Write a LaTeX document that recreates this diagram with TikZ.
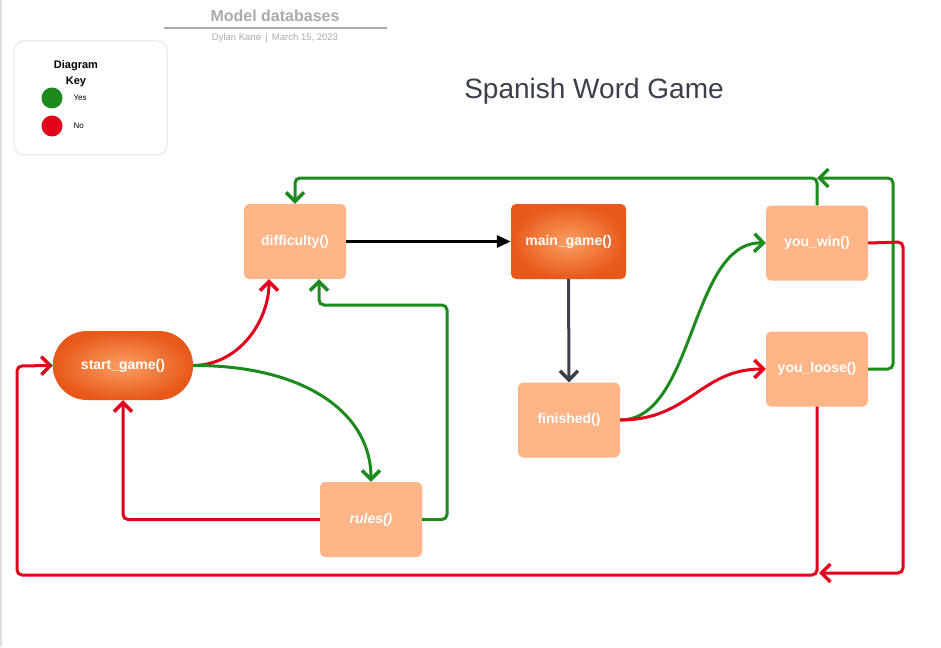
\documentclass[tikz,border=0pt]{standalone}
\usepackage{fontspec}
\setmainfont{Liberation Sans}
\usetikzlibrary{arrows.meta}

\definecolor{gk}{RGB}{29,138,30}
\definecolor{rd}{RGB}{227,0,27}
\definecolor{peach}{RGB}{255,181,136}
\definecolor{dk}{RGB}{58,63,74}
\definecolor{hdr}{RGB}{168,171,176}
\definecolor{hotin}{RGB}{250,160,98}
\definecolor{hotout}{RGB}{232,88,26}

\begin{document}
\begin{tikzpicture}[x=1pt,y=-1pt,
  box/.style={rectangle, rounded corners=5pt, fill=peach, text=white,
    font=\bfseries\fontsize{14}{16}\selectfont, minimum width=102pt,
    minimum height=75pt, inner sep=0pt},
  hotbox/.style={box, fill=none, shading=radial, inner color=hotin, outer color=hotout},
  conn/.style={line width=3pt, rounded corners=5pt},
  vtip/.style={-{Straight Barb[length=9pt,width=18pt,line width=3.5pt]}},
  ftip/.style={-{Triangle[length=14pt,width=12pt]}},
  keytxt/.style={font=\fontsize{8}{9}\selectfont, text=black}
]
\useasboundingbox (0,0) rectangle (941,647);
\fill[white] (0,0) rectangle (941,647);
\draw[gray!25, line width=2pt] (1,0) -- (1,647);

% header
\node[font=\bfseries\fontsize{16}{18}\selectfont, text=hdr] (hd) at (275,16) {Model databases};
\draw[hdr, line width=1.5pt] (164,28) -- (387,28);
\node[font=\fontsize{9.5}{10}\selectfont, text=hdr] (auth) at (275,38) {Dylan Kane \,|\, March 15, 2023};

% legend
\node[draw=gray!20, line width=1pt, rounded corners=10pt, minimum width=153pt,
  minimum height=114pt] (key) at (90.5,98) {};
\node[font=\bfseries\fontsize{11}{16}\selectfont, align=center] (keyt) at (76,74) {Diagram\\Key};
\node[circle, fill=gk, minimum size=21pt, inner sep=0pt] (yesc) at (52,98) {};
\node[circle, fill=rd, minimum size=21pt, inner sep=0pt] (noc) at (52,126) {};
\node[keytxt, anchor=west] (yest) at (70,98) {Yes};
\node[keytxt, anchor=west] (not) at (70,126) {No};

% title
\node[text=dk, font=\fontsize{28}{32}\selectfont] (title) at (594,91) {Spanish Word Game};

% nodes
\node[box] (diff) at (295,241.5) {difficulty()};
\node[hotbox, minimum width=115pt] (main) at (568.5,241.5) {main\_game()};
\node[hotbox, rounded corners=34pt, minimum width=140pt, minimum height=69pt] (start) at (123,365.5) {start\_game()};
\node[box] (fin) at (569,420) {finished()};
\node[box] (win) at (817,243) {you\_win()};
\node[box] (loose) at (817,369) {you\_loose()};
\node[box, font=\bfseries\itshape\fontsize{14}{16}\selectfont] (rules) at (371,519.5) {rules()};

% junction coordinates
\coordinate (gj) at (817,178);
\coordinate (rj) at (819,573);

% connectors
\draw[conn, black, ftip] (diff.east) -- (main.west);
\draw[conn, dk, vtip] (main.south) -- (fin.north);
\draw[conn, rd, vtip] (start.east) .. controls (240,365) and (269,320) .. ([xshift=-26pt]diff.south);
\draw[conn, gk, vtip] (start.east) .. controls (300,365) and (371,410) .. (rules.north);
\draw[conn, gk, vtip] (fin.east) .. controls (695,420) and (690,241) .. (win.west);
\draw[conn, rd, vtip] (fin.east) .. controls (690,420) and (700,369) .. (loose.west);

\draw[conn, rd, vtip] (rules.west) -| (start.south);
\draw[conn, gk, vtip] (rules.east) -- (447,519.5) -- (447,305) -| ([xshift=24pt]diff.south);
\draw[conn, gk, vtip] (win.north) -- (gj) -| (diff.north);
\draw[conn, gk, vtip] (loose.east) -- (893,369) -- (893,178) -- (gj);
\draw[conn, rd, vtip] (win.east) -- (903,242) -- (903,573) -- (rj);
\draw[conn, rd, vtip] (loose.south) -- (817,575) -- (17,575) -- (17,366) -- (start.west);
\end{tikzpicture}
\end{document}
